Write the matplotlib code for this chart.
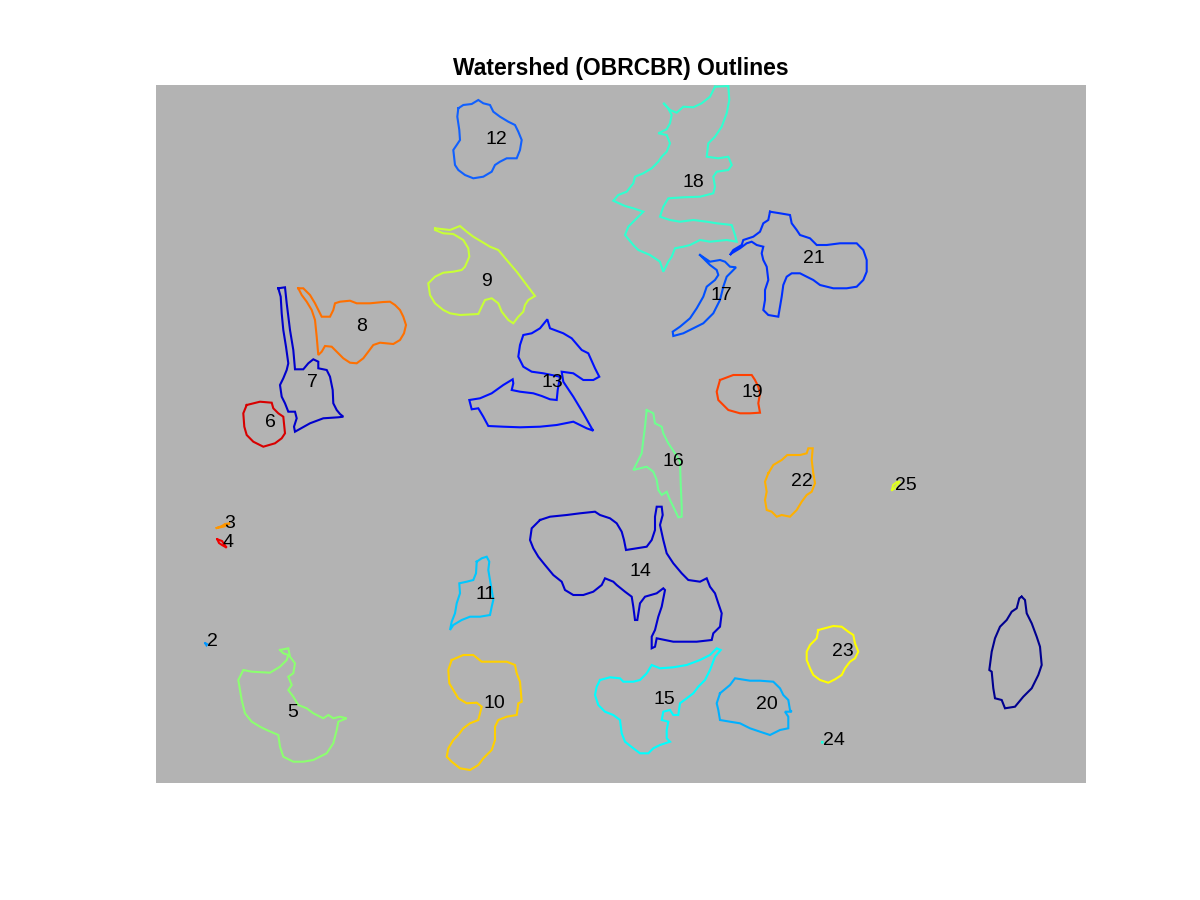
import matplotlib
matplotlib.use("Agg")
import matplotlib.pyplot as plt

# ---- data: outline vertices (image pixel coordinates) ----
outline_1 = [(1021.7,596.7),(1025,600),(1026.7,613.3),(1031.7,623.3),(1036.7,636.7),(1040,646.7),(1041.7,665),(1038.3,675),(1031.7,688.3),(1023.3,696.7),(1015,706.7),(1005,708.3),(1001.7,700),(995,698.3),(993.3,688.3),(991.7,671.7),(989.3,670),(991.7,651.7),(995,638.3),(1000,626.7),(1006.7,620),(1011.7,611.7),(1016.7,608.3),(1019.3,598.3)]
outline_2 = [(205.3,643.3),(207.3,644.3),(206.5,645.3),(205.3,643.3)]
outline_3 = [(216.7,528),(222,526),(225,524),(230,523.3),(224,526.5),(216.7,528)]
outline_4 = [(217.3,539.3),(222,541),(224,544),(226.7,547.7),(222,545),(219,543),(217.3,539.3)]
outline_5 = [(280,650),(288.3,648.3),(290,656.7),(295,663.3),(293.3,673.3),(288.3,676.7),(291.7,685),(288.3,690),(293.3,696.7),(298.3,705),(306.7,708.3),(313.3,713.3),(323.3,718.3),(328.3,715),(333.3,718.3),(340,716.7),(346.7,718.3),(338.3,721.7),(336.7,730),(333.3,743.3),(326.7,753.3),(313.3,760),(303.3,761.7),(293.3,761.7),(283.3,756.7),(280,746.7),(278.3,735),(266.7,730),(260,726.7),(251.7,721.7),(245,713.3),(241.7,700),(240,690),(238.3,680),(243.3,670),(251.7,671.7),(270,672.7),(280,666.7),(286.7,660),(288.3,655),(283.3,653.3)]
outline_6 = [(246.7,405),(260,401.7),(271.7,402.7),(273.3,408.3),(278.3,413.3),(283.3,416.7),(285,433.3),(281.7,438.3),(275,443.3),(263.3,446.7),(253.3,441.7),(246.7,435),(244.3,426.7),(243.3,413.3)]
outline_7 = [(278.3,288.3),(285,287.3),(286.7,303.3),(290,330),(293.3,350),(295,369.3),(303.3,369.3),(308.3,363.3),(313.3,359.3),(318.3,361.7),(318.3,368.3),(326.7,370),(330,376.7),(332.7,390),(333.3,403.3),(336.7,410),(340,414),(343.3,416.7),(338.3,417.3),(323.3,418.3),(310,423.3),(295,431.7),(294,426.7),(296.7,418.3),(295,411.7),(288.3,411.7),(285,403.3),(281.7,396.7),(280,385),(283.3,378.3),(286.7,370),(288.3,363.3),(286,346.7),(283.3,330),(281.7,313.3),(280.7,296.7)]
outline_8 = [(298.3,288.3),(303.3,288.3),(310,295),(315,303.3),(320,313.3),(321.7,316.7),(330,316.7),(333.3,310),(335,303.3),(340,301.7),(350,300.7),(356.7,303.3),(370,303.3),(383.3,302),(390,301.7),(395,305),(400,310),(403.3,316.7),(406,325),(404,333.3),(400,340),(393.3,344),(380,342.7),(373.3,345),(368.3,351.7),(363.3,358.3),(356.7,363.3),(350,362.7),(343.3,358.3),(336.7,351.7),(331.7,346.7),(325,346),(321.7,351.7),(318.3,355),(317.7,348.3),(316.7,336.7),(315,320),(311.7,310),(306.7,301.7),(301.7,295)]
outline_9 = [(435,228.3),(450,230),(460,226),(466.7,231.7),(473.3,236.7),(481.7,241.7),(490,246.7),(498.3,250),(506.7,260),(516.7,271.7),(526.7,285),(535,296),(528.3,300),(525,305),(523.3,311.7),(518.3,316.7),(513.3,323.3),(508.3,320),(501.7,311.7),(498.3,303.3),(491.7,298.3),(485,300),(481.7,306.7),(478.3,314),(460,315),(450,313.3),(443.3,310),(435,303.3),(430,295),(428.3,283.3),(435,276.7),(443.3,272.7),(453.3,271.7),(461.7,270),(465,266.7),(469.3,256.7),(468.3,248.3),(463.3,240),(453.3,234),(443.3,233.3),(435,230)]
outline_10 = [(451.7,660),(463.3,655),(473.3,655),(481.7,661.7),(493.3,661.7),(506.7,661.7),(515,665),(516.7,673.3),(520,681.7),(521.7,701.7),(518.3,703.3),(516.7,715),(506.7,716.7),(498.3,720),(495,726.7),(495,740),(491.7,750),(483.3,758.3),(478.3,765),(470,770),(460,768.3),(451.7,761.7),(446.7,756.7),(448.3,748.3),(453.3,740),(458.3,735),(463.3,728.3),(470,723.3),(478.3,720),(481.7,706.7),(476.7,702.7),(466.7,703.3),(458.3,698.3),(453.3,690),(449.3,683.3),(448.3,670)]
outline_11 = [(476.7,561.7),(481.7,558.3),(486.7,556.7),(489.3,561.7),(488.3,570),(490,580),(491.7,590),(493.3,600),(491.7,606.7),(490,615),(480,616.7),(470,616.7),(461.7,620),(453.3,625),(450,630),(451.7,621.7),(455,613.3),(456.7,603.3),(460,593.3),(459.3,583.3),(466.7,581.7),(473.3,580),(476,573.3)]
outline_12 = [(458.3,108.3),(463.3,105),(471.7,104),(478.3,100),(483.3,103.3),(490,105),(493.3,111.7),(500,116.7),(508.3,121.7),(515,125),(518.3,131.7),(521.7,140),(520,150),(516.7,158.3),(506.7,158.3),(500,161.7),(495,165),(491.7,171.7),(483.3,176.7),(473.3,178.3),(465,175),(458.3,170),(455,165),(453.3,150),(456.7,145),(460,140),(459.3,130),(457.3,116.7)]
outline_13 = [(560,376.7),(543.3,373.3),(531.7,371.7),(523.3,366.7),(518.3,356.7),(520,345),(523.3,335),(531.7,333.3),(540,328.3),(547.3,319.3),(550,328.3),(563.3,333.3),(571.7,338.3),(581.7,350),(588.3,353.3),(595,368.3),(599.3,376.7),(593.3,380),(583.3,380),(573.3,373.3),(561.7,371.7),(563.3,381.7),(573.3,396.7),(583.3,413.3),(591.7,428.3),(593.3,430.7),(586.7,428.3),(573.3,421.7),(556.7,425),(540,426.7),(520,427.3),(503.3,426.7),(488.3,426),(483.3,416.7),(478.3,408.3),(471.7,409.3),(469.3,400),(480,398.3),(491.7,393.3),(503.3,385),(512.7,379.3),(513.3,383.3),(511.7,390),(520,391.7),(533.3,393.3),(541.7,396),(550,399.3),(556.7,400),(557.7,390)]
outline_14 = [(540,520),(550,516.7),(566.7,515),(580,513.3),(595,511.7),(600,515),(610,518.3),(616.7,523.3),(621.7,531.7),(624,540),(626,550),(636.7,548.3),(646.7,546.7),(651.7,540),(655,530),(655,516.7),(656.7,506.7),(661.7,506.7),(662.7,515),(660,525),(663.3,540),(666.7,553.3),(673.3,563.3),(681.7,573.3),(688.3,580),(700,581.7),(706.7,578.3),(710,586.7),(715,593.3),(718.3,603.3),(721.7,613.3),(720,626.7),(713.3,633.3),(711.7,640),(696.7,641.7),(673.3,641.7),(656.7,638.3),(655,646.7),(651.7,648.3),(651.7,636.7),(655,630),(658.3,616.7),(661.7,606.7),(665,590),(663.3,588.3),(656.7,593.3),(645,596.7),(640,603.3),(637.3,620),(635,620),(633.3,606.7),(631.7,596.7),(625,591.7),(616.7,585),(613.3,581.7),(605,578.3),(601.7,585),(593.3,591.7),(583.3,595),(573.3,595),(565,590),(561.7,581.7),(553.3,575),(545,565),(538.3,556.7),(533.3,548.3),(530,540),(531.7,528.3),(536.7,523.3)]
outline_15 = [(600,680),(610,677.3),(620,678.3),(623.3,681.7),(633.3,681.7),(640,680),(646.7,673.3),(651.7,665),(660,668.3),(673.3,667.3),(686.7,665),(700,660),(710,655),(716.7,648.3),(720.7,650),(715,656.7),(710,670),(705,680),(698.3,686.7),(693.3,693.3),(686.7,698.3),(680,703.3),(678.3,715),(673.3,715),(670,710),(663.3,711.7),(661.7,720),(668.3,721.7),(666.7,730),(666.7,738.3),(670,741.7),(660,745),(653.3,748.3),(648.3,753.3),(640,753.3),(633.3,748.3),(625,741.7),(621.7,733.3),(620,720),(613.3,715),(605,711.7),(598.3,705),(595,695),(596.7,686.7)]
outline_16 = [(646.7,410),(653.3,413.3),(655,423.3),(661.7,426.7),(663.3,433.3),(668.3,443.3),(675,453.3),(680,461.7),(680.7,483.3),(681.7,506.7),(681.7,516.7),(678.3,517.3),(673.3,506.7),(670,500),(666.7,491.7),(661.7,495),(658.3,490),(656.7,480),(653.3,471.7),(646.7,466.7),(640,468.3),(633.3,470),(636.7,463.3),(641.7,453.3),(643.3,440),(645,426.7)]
outline_17 = [(700,255),(710,261.7),(720,260),(725,261.7),(730,266.7),(736,267.3),(731.7,271.7),(726.7,276.7),(723.3,286.7),(720,300),(713.3,313.3),(703.3,323.3),(693.3,328.3),(683.3,333.3),(673.3,336),(672.7,331.7),(680,326.7),(690,318.3),(696.7,308.3),(703.3,296.7),(706.7,286.7),(715,280),(718.3,275),(716.7,270),(710,265)]
outline_18 = [(715,86.7),(728.3,86),(729.3,100),(726.7,113.3),(721.7,126.7),(715,136.7),(708.3,143.3),(706.7,156.7),(718.3,158.3),(728.3,156.7),(731.7,165),(728.3,170),(716.7,171.7),(713.3,176.7),(715,186.7),(713.3,193.3),(700,196.7),(683.3,197.3),(668.3,198.3),(663.3,206.7),(660,216.7),(670,220),(680,221.7),(693.3,220),(706.7,221.7),(716.7,223.3),(731.7,225),(735,235),(736.7,241.7),(726.7,240),(710,241.7),(700,240),(690,245),(683.3,246.7),(675,248.3),(671.7,256.7),(668.3,261.7),(663.3,271.7),(660,261.7),(650,255),(638.3,250),(633.3,245),(625,235),(628.3,226.7),(635,220),(643.3,211.7),(633.3,208.3),(625,206),(613.3,200.7),(618.3,195),(626.7,191.7),(633.3,183.3),(635,176.7),(643.3,173.3),(651.7,168.3),(658.3,161.7),(661.7,156.7),(666.7,151.7),(670,143.3),(666.7,135),(658.3,133.3),(666.7,129.3),(670,123.3),(671.7,115),(668,108),(663.3,103),(670,110),(676.7,112.7),(683.3,106.7),(693.3,107.3),(701.7,103.3),(710,96.7)]
outline_19 = [(720,380),(733.3,375),(751.7,375),(755,380),(758.3,386.7),(760,393.3),(758.3,403.3),(760,412.7),(750,413.3),(740,413.3),(728.3,410),(723.3,405),(718.3,400),(716.7,391.7)]
outline_20 = [(720,693.3),(730,685),(735,678.3),(750,680.7),(760,680.7),(773.3,681.7),(780,688.3),(783.3,695),(788.3,700),(790,710),(791.7,711.7),(785,711.7),(788.3,716.7),(788.3,728.3),(780,730),(770,735),(760,731.7),(750,728.3),(740,723.3),(730,721.7),(720,720),(718.3,710),(716.7,703.3)]
outline_21 = [(770,211.7),(780,213.3),(790,215),(791.7,223.3),(796.7,230),(800,235),(810,238.3),(816.7,245),(826.7,245),(840,243.3),(856.7,243.3),(863.3,250),(866.7,260),(866.7,271.7),(863.3,280),(856.7,286.7),(846.7,288.3),(833.3,288.3),(820,285),(813.3,280),(806.7,276.7),(800,273.3),(791.7,273.3),(786.7,276.7),(783.3,285),(781.7,296.7),(780,306.7),(778.3,316.7),(768.3,315),(763.3,310),(765,300),(765,290),(768.3,280),(766.7,266.7),(763.3,260),(761.7,253.3),(763.3,246.7),(756.7,245),(751.7,241.7),(746.7,243.3),(740,248.3),(731.7,253.3),(730,255),(733.3,250),(741.7,245),(743.3,240),(753.3,236.7),(760,231.7),(763.3,223.3),(768.3,220)]
outline_22 = [(768.3,473.3),(773.3,465),(781.7,460),(787.3,455),(800,455),(806.7,453.3),(808.3,448.3),(812.7,448.3),(811.7,460),(813.3,473.3),(815,483.3),(811.7,491.7),(806.7,495),(801.7,501.7),(796.7,510),(790,516.7),(781.7,515),(776.7,516.7),(771.7,511.7),(766.7,510),(765,500),(766.7,491.7),(765,481.7)]
outline_23 = [(818.3,630),(833.3,626),(841.7,626.7),(848.3,631.7),(853.3,635),(855,643.3),(858.3,651.7),(855,658.3),(850,661.7),(845,668.3),(841.7,675),(835,679.3),(828.3,682.7),(820,680),(813.3,675),(810,668.3),(806.7,660),(806.7,651.7),(810,645),(816.7,638.3)]
outline_24 = [(822.2,742.0),(823.2,742.6),(822.2,742.6),(822.2,742.0)]
outline_25 = [(892,490),(893,485),(897,482),(900,481.5),(897,485),(894,489),(892,490)]

region_colors = ['#00008f', '#0096ff', '#ff9600', '#f00000', '#8cff70',
                 '#d80000', '#0000cc', '#ff7000', '#c8ff37', '#ffd000',
                 '#00c8ff', '#1060ff', '#0010ff', '#0000d0', '#00ffff',
                 '#70ff8f', '#0050ff', '#30ffd0', '#ff4000', '#00b0ff',
                 '#0030ff', '#ffb000', '#ffff00', '#20ffe0', '#e0ff20']

label_ids = [2, 3, 4, 5, 6, 7, 8, 9, 10, 11, 12, 13, 14, 15, 16, 17, 18, 19, 20, 21, 22, 23, 24, 25]
label_x = [212, 230, 228, 293, 270, 312, 362, 486, 494, 486, 496, 552, 640, 664, 673, 721, 693, 752, 767, 814, 802, 843, 834, 906]
label_y = [641, 523, 542, 712, 422, 382, 326, 281, 703, 594, 139, 382, 571, 699, 461, 295, 182, 392, 704, 258, 481, 651, 740, 485]

outlines = [outline_1, outline_2, outline_3, outline_4, outline_5, outline_6,
            outline_7, outline_8, outline_9, outline_10, outline_11, outline_12,
            outline_13, outline_14, outline_15, outline_16, outline_17, outline_18,
            outline_19, outline_20, outline_21, outline_22, outline_23, outline_24,
            outline_25]

plt.rcParams['font.family'] = ['Liberation Sans', 'DejaVu Sans']
fig = plt.figure(figsize=(12, 9), dpi=100)
ax = fig.add_axes([156/1200, 1 - 783/900, 930/1200, 698/900])
ax.set_facecolor('#b3b3b3')

for pts, col in zip(outlines, region_colors):
    xs = [p[0] for p in pts] + [pts[0][0]]
    ys = [p[1] for p in pts] + [pts[0][1]]
    ax.plot(xs, ys, color=col, lw=1.5, solid_joinstyle='miter')

for lid, lx, ly in zip(label_ids, label_x, label_y):
    ax.text(lx, ly, str(lid), fontsize=14, ha='center', va='center', color='black')

ax.set_xlim(156, 1086)
ax.set_ylim(783, 85)
ax.set_xticks([])
ax.set_yticks([])
for s in ax.spines.values():
    s.set_visible(False)

fig.text(621/1200, 1 - 69/900, 'Watershed (OBRCBR) Outlines', ha='center', va='center',
         fontsize=16.5, fontweight='bold')

fig.savefig('out.png', dpi=100, facecolor='white')
